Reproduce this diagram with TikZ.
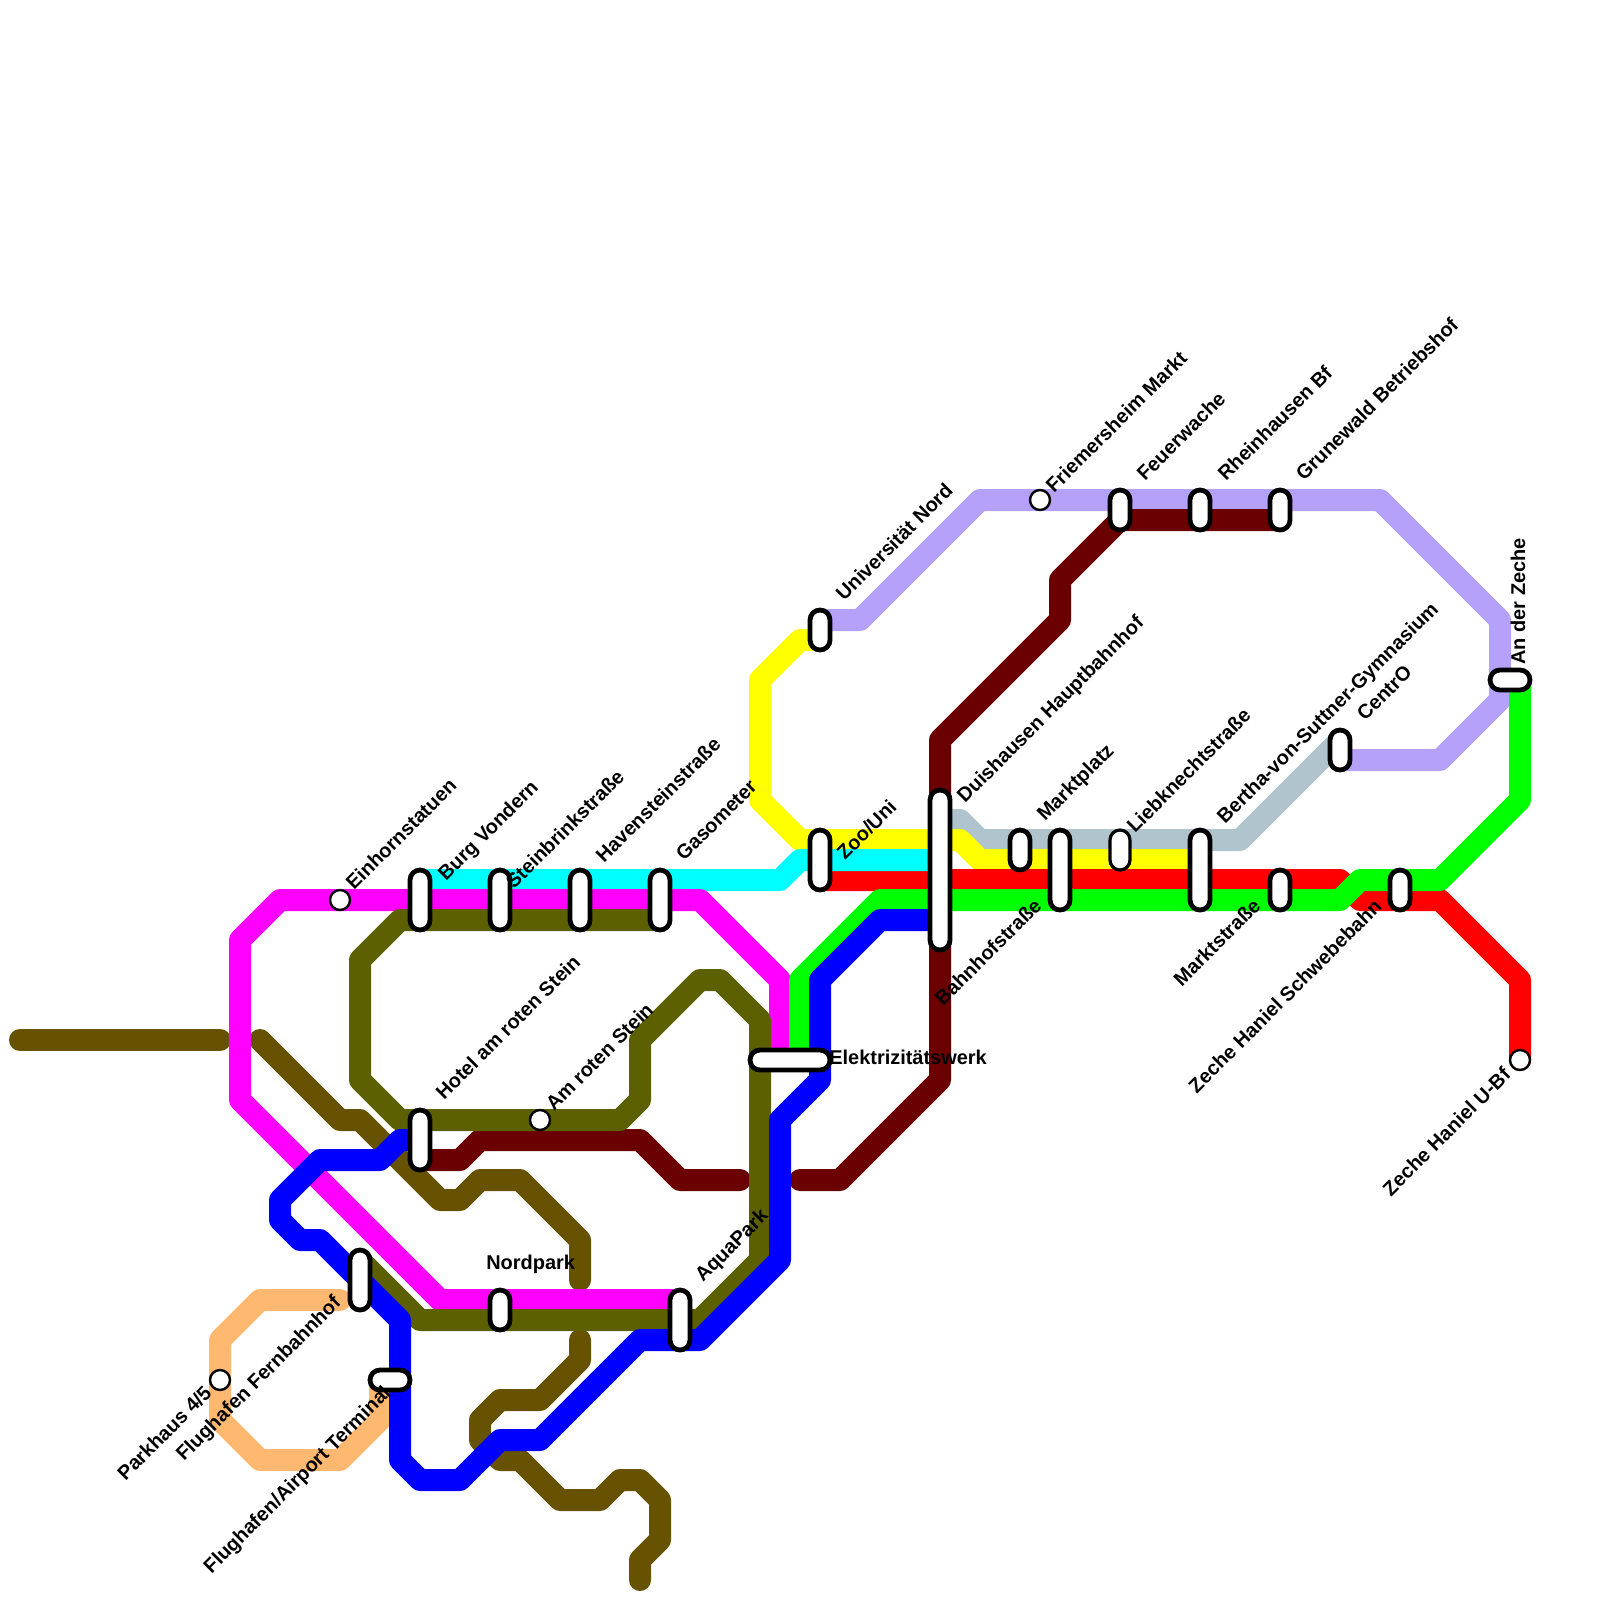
\documentclass[tikz,border=0pt]{standalone}
\usepackage{fontspec}
\setmainfont{Liberation Sans}
\definecolor{lmag}{HTML}{FF00FF}
\definecolor{lolive}{HTML}{5C6000}
\definecolor{lblue}{HTML}{0000FF}
\definecolor{lgreen}{HTML}{00FF00}
\definecolor{lred}{HTML}{FF0000}
\definecolor{lcyan}{HTML}{00FFFF}
\definecolor{lyellow}{HTML}{FFFF00}
\definecolor{lgray}{HTML}{B0C4CE}
\definecolor{llilac}{HTML}{B5A0FA}
\definecolor{ldark}{HTML}{6B0000}
\definecolor{lbrown}{HTML}{665200}
\definecolor{lbeige}{HTML}{FFB870}
\tikzset{
  metro/.style={line width=0.55cm,line join=round,line cap=round},
  stat/.style={draw=black,fill=white,line width=0.12cm,rounded corners=0.2495cm},
  statthin/.style={draw=black,fill=white,line width=0.08cm,rounded corners=0.2495cm},
  halt/.style={circle,draw=black,fill=white,line width=0.06cm,minimum size=0.5cm,inner sep=0pt},
  lbl/.style={font=\bfseries\fontsize{14.2pt}{17pt}\selectfont,inner sep=0pt,text=black},
  lup/.style={lbl,rotate=45,anchor=base west},
  ldn/.style={lbl,rotate=45,anchor=base east},
}
% position in reference pixels
\newcommand{\px}[2]{({#1/20},{#2/20})}
\begin{document}
\begin{tikzpicture}[x=0.5cm,y=-0.5cm]
\useasboundingbox (0,0) rectangle (80,80);
\fill[white] (0,0) rectangle (80,80);
% lines
\draw[metro,lbeige] (17,65)--(13,65)--(11,67)--(11,71)--(13,73)--(17,73)--(19,71)--(19,69);
\draw[metro,lbrown] (1,52)--(11,52);
\draw[metro,lbrown] (13,52)--(17,56)--(18,56)--(22,60)--(23,60)--(24,59)--(26,59)--(29,62)--(29,64);
\draw[metro,lbrown] (29,67)--(29,68)--(27,70)--(25,70)--(24,71)--(24,72)--(25,73)--(26,73)--(28,75)--(30,75)--(31,74)--(32,74)--(33,75)--(33,77)--(32,78)--(32,79);
\draw[metro,llilac] (67,38)--(72,38)--(75,35)--(75,31)--(69,25)--(49,25)--(43,31)--(41,31);
\draw[metro,lgray] (47,41)--(48,41)--(49,42)--(62,42)--(67,37);
\draw[metro,lyellow] (41,32)--(40,32)--(38,34)--(38,40)--(40,42)--(48,42)--(49,43)--(60,43);
\draw[metro,lred] (41,44)--(67,44)--(68,45)--(72,45)--(76,49)--(76,53);
\draw[metro,lcyan] (21.2,44)--(39,44)--(40,43)--(47,43);
\draw[metro,ldark] (64,26)--(56,26)--(53,29)--(53,31)--(47,37)--(47,54)--(42,59)--(40,59);
\draw[metro,ldark] (37,59)--(34,59)--(32,57)--(24,57)--(23,58)--(21,58);
\draw[metro,lmag] (21,45)--(14,45)--(12,47)--(12,55)--(22,65)--(34,65);
\draw[metro,lmag] (21,45)--(35,45)--(39,49)--(39,53);
\draw[metro,lolive] (33,46)--(20,46)--(18,48)--(18,54)--(20,56)--(31,56)--(32,55)--(32,52)--(35,49)--(36,49)--(38,51)--(38,63)--(35,66)--(21,66)--(18,63);
\draw[metro,lgreen] (40,53)--(40,49)--(44,45)--(67,45)--(68,44)--(72,44)--(76,40)--(76,34);
\draw[metro,lblue] (21,57)--(20,57)--(19,58)--(16,58)--(14,60)--(14,61)--(15,62)--(16,62)--(20,66)--(20,73)--(21,74)--(23,74)--(25,72)--(27,72)--(32,67)--(35,67)--(39,63)--(39,56)--(41,54)--(41,49)--(44,46)--(47,46);
% stations
\node[halt] (sEinhorn) at (17,45) {};
\node[halt] (sAmRoten) at (27,56) {};
\node[halt] (sParkhaus) at (11,69) {};
\node[halt] (sFriem) at (52,25) {};
\node[halt] (sHanielU) at (76,53) {};
\path[stat] (20.5,43.5) rectangle (21.5,46.5);
\path[stat] (24.5,43.5) rectangle (25.5,46.5);
\path[stat] (28.5,43.5) rectangle (29.5,46.5);
\path[stat] (32.5,43.5) rectangle (33.5,46.5);
\path[stat] (20.5,55.5) rectangle (21.5,58.5);
\path[stat] (17.5,62.5) rectangle (18.5,65.5);
\path[stat] (24.5,64.5) rectangle (25.5,66.5);
\path[stat] (33.5,64.5) rectangle (34.5,67.5);
\path[stat] (18.5,68.5) rectangle (20.5,69.5);
\path[stat] (37.5,52.5) rectangle (41.5,53.5);
\path[stat] (40.5,30.5) rectangle (41.5,32.5);
\path[stat] (40.5,41.5) rectangle (41.5,44.5);
\path[stat] (46.5,39.5) rectangle (47.5,47.5);
\path[stat] (50.5,41.5) rectangle (51.5,43.5);
\path[stat] (52.5,41.5) rectangle (53.5,45.5);
\path[statthin] (55.5,41.5) rectangle (56.5,43.5);
\path[stat] (59.5,41.5) rectangle (60.5,45.5);
\path[stat] (63.5,43.5) rectangle (64.5,45.5);
\path[stat] (69.5,43.5) rectangle (70.5,45.5);
\path[stat] (74.5,33.5) rectangle (76.5,34.5);
\path[stat] (66.5,36.5) rectangle (67.5,38.5);
\path[stat] (55.5,24.5) rectangle (56.5,26.5);
\path[stat] (59.5,24.5) rectangle (60.5,26.5);
\path[stat] (63.5,24.5) rectangle (64.5,26.5);
% labels
\node[lup] (lEinhorn) at \px{354}{891} {Einhornstatuen};
\node[lup] (lBurg) at \px{446}{882} {Burg Vondern};
\node[lup] (lStein) at \px{514}{890} {Steinbrinkstraße};
\node[lup] (lHaven) at \px{604}{864} {Havensteinstraße};
\node[lup] (lGaso) at \px{684}{862} {Gasometer};
\node[lup] (lHotel) at \px{444}{1101} {Hotel am roten Stein};
\node[lup] (lAmRot) at \px{554}{1112} {Am roten Stein};
\node[lup] (lUni) at \px{844}{602} {Universität Nord};
\node[lup] (lZoo) at \px{845}{861} {Zoo/Uni};
\node[lup] (lDuis) at \px{965}{804} {Duishausen Hauptbahnhof};
\node[lup] (lMarktpl) at \px{1045}{822} {Marktplatz};
\node[lup] (lLieb) at \px{1135}{834} {Liebknechtstraße};
\node[lup] (lBertha) at \px{1225}{825} {Bertha-von-Suttner-Gymnasium};
\node[lup] (lCentro) at \px{1365}{722} {CentrO};
\node[lup] (lFriem) at \px{1054}{494} {Friemersheim Markt};
\node[lup] (lFeuer) at \px{1145}{482} {Feuerwache};
\node[lup] (lRhein) at \px{1226}{482} {Rheinhausen Bf};
\node[lup] (lGrune) at \px{1304}{482} {Grunewald Betriebshof};
\node[lup] (lAqua) at \px{703}{1283} {AquaPark};
\node[lbl,rotate=90,anchor=base west] (lZeche) at \px{1525}{665} {An der Zeche};
\node[lbl,anchor=base west] (lElek) at \px{829}{1064} {Elektrizitätswerk};
\node[lbl,anchor=base west] (lNord) at \px{486}{1269} {Nordpark};
\node[ldn] (lPark) at \px{213}{1394} {Parkhaus 4/5};
\node[ldn] (lFern) at \px{342}{1304} {Flughafen Fernbahnhof};
\node[ldn] (lTerm) at \px{392}{1394} {Flughafen/Airport Terminal};
\node[ldn] (lBahn) at \px{1043}{907} {Bahnhofstraße};
\node[ldn] (lMarktstr) at \px{1262}{907} {Marktstraße};
\node[ldn] (lSchwebe) at \px{1383}{908} {Zeche Haniel Schwebebahn};
\node[ldn] (lHanielU) at \px{1512}{1076} {Zeche Haniel U-Bf};
\end{tikzpicture}
\end{document}
